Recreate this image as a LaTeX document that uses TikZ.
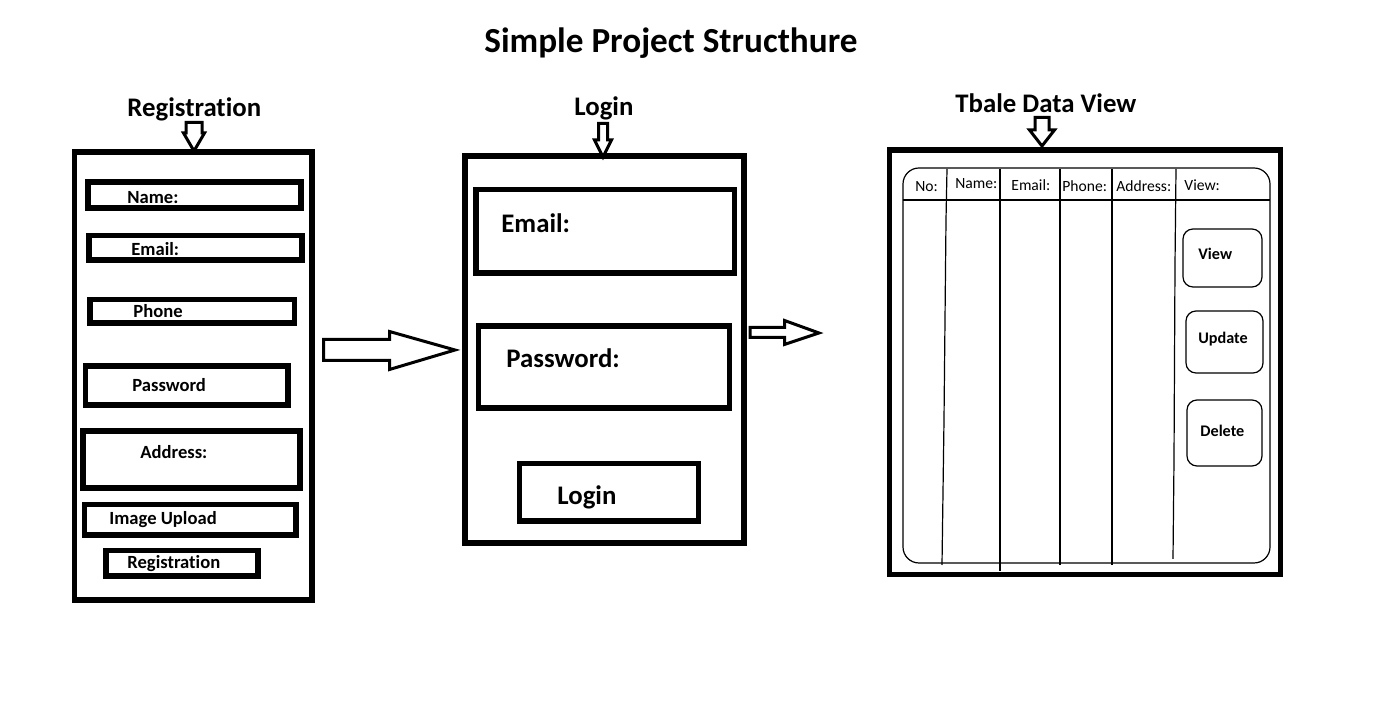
\documentclass[tikz,border=0pt]{standalone}
\usepackage{fontspec}
\setmainfont{Carlito}[Ligatures=CommonOff]
\tikzset{
	frame/.style={line width=2.6pt},
	flow/.style={line width=1.5pt, line join=miter},
	grid/.style={line width=0.6pt},
	title/.style={inner sep=0pt, font=\bfseries\fontsize{17.6}{20}\selectfont},
	heading/.style={inner sep=0pt, anchor=base west, font=\bfseries\fontsize{13.4}{16}\selectfont},
	small/.style={inner sep=0pt, anchor=base west, font=\bfseries\fontsize{9.3}{11}\selectfont},
	big/.style={inner sep=0pt, anchor=base west, font=\bfseries\fontsize{13.4}{16}\selectfont},
	col/.style={inner sep=0pt, anchor=base west, font=\fontsize{7.8}{9}\selectfont},
	btn/.style={inner sep=0pt, anchor=base west, font=\bfseries\fontsize{8.1}{10}\selectfont}
}
\begin{document}
\begin{tikzpicture}[x=0.5pt,y=0.5pt]
		\useasboundingbox (0,0) rectangle (1388,-704);
		% Title
		\node[title, anchor=base] (title) at (671,-53) {Simple Project Structhure};
		% Registration page
		\node[heading] (regHead) at (127,-117) {Registration};
		\draw[flow] plot coordinates {(186,-122.5) (202,-122.5) (202,-133) (204.5,-133) (194,-151) (183.5,-133) (186,-133)} -- cycle;
		\draw[frame] (74.5,-152) rectangle (312,-600);
		\draw[frame] (88,-182) rectangle (301,-208);
		\draw[frame] (89,-235.5) rectangle (302,-260);
		\draw[frame] (90,-299.5) rectangle (294.5,-323);
		\draw[frame] (85.5,-366) rectangle (288,-405);
		\draw[frame] (83,-431) rectangle (300,-488);
		\draw[frame] (84.5,-504.5) rectangle (296,-535);
		\draw[frame] (106,-550.5) rectangle (258,-576);
		\node[small] (regName) at (127,-204) {Name:};
		\node[small] (regEmail) at (131,-256) {Email:};
		\node[small] (regPhone) at (133,-318) {Phone};
		\node[small] (regPass) at (132,-392) {Password};
		\node[small] (regAddr) at (140,-459) {Address:};
		\node[small] (regImg) at (109,-525) {Image Upload};
		\node[small] (regBtn) at (127,-569) {Registration};
		% Arrow to login
		\draw[flow] plot coordinates {(323.5,-339.5) (389.5,-339.5) (389.5,-331.5) (455,-350) (389.5,-369.5) (389.5,-360.5) (323.5,-360.5)} -- cycle;
		% Login page
		\node[heading] (logHead) at (574,-116) {Login};
		\draw[flow] plot coordinates {(598.5,-123.5) (607.5,-123.5) (607.5,-140) (611.5,-140) (603,-157) (594.5,-140) (598.5,-140)} -- cycle;
		\draw[frame] (465,-156) rectangle (744,-543);
		\draw[frame] (476,-189.5) rectangle (734.5,-273);
		\draw[frame] (478.5,-326) rectangle (729.5,-408);
		\draw[frame] (519.5,-463.5) rectangle (698.5,-521);
		\node[big] (logEmail) at (501,-233) {Email:};
		\node[big] (logPass) at (506,-368) {Password:};
		\node[big] (logBtn) at (557,-505) {Login};
		% Arrow to table
		\draw[flow] plot coordinates {(750,-327.5) (784.5,-327.5) (784.5,-320.5) (819,-333) (784.5,-344.5) (784.5,-337.5) (750,-337.5)} -- cycle;
		% Table data view
		\node[heading] (tabHead) at (955,-113) {Tbale Data View};
		\draw[flow] plot coordinates {(1035,-117.5) (1049,-117.5) (1049,-130) (1054.5,-130) (1042,-146) (1029.5,-130) (1035,-130)} -- cycle;
		\draw[frame] (889.5,-150) rectangle (1280.5,-574.5);
		\draw[grid, rounded corners=8pt] (903,-168) rectangle (1270,-563);
		\draw[grid] (903,-200) -- (1270,-200);
		\draw[grid] (947,-169) -- (946,-220) -- (945,-320) -- (944,-420) -- (942,-565);
		\draw[grid] (1000,-169) -- (1000,-571);
		\draw[grid] (1060,-169) -- (1060,-565);
		\draw[grid] (1112,-169) -- (1112,-565);
		\draw[grid] (1176,-169) -- (1175,-265) -- (1174,-460) -- (1173,-559);
		\node[col] (colNo) at (915,-192) {No:};
		\node[col] (colName) at (955,-189) {Name:};
		\node[col] (colEmail) at (1011,-191) {Email:};
		\node[col] (colPhone) at (1062,-192) {Phone:};
		\node[col] (colAddr) at (1116,-192) {Address:};
		\node[col] (colView) at (1184,-191) {View:};
		% Buttons
		\draw[grid, rounded corners=5pt] (1183,-229) rectangle (1262,-287);
		\draw[grid, rounded corners=5pt] (1186,-311) rectangle (1263,-373);
		\draw[grid, rounded corners=5pt] (1187,-400) rectangle (1262,-466);
		\node[btn] (btnView) at (1198,-260) {View};
		\node[btn] (btnUpd) at (1198,-344) {Update};
		\node[btn] (btnDel) at (1200,-437) {Delete};
	\end{tikzpicture}
\end{document}
